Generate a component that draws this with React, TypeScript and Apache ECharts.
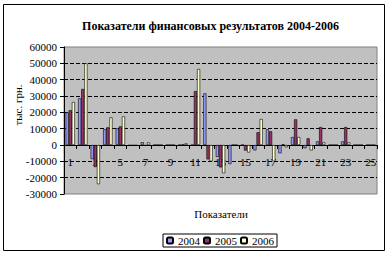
import React, { useEffect, useRef } from "react";
import * as echarts from "echarts";

const categories = ["1","2","3","4","5","6","7","8","9","10","11","12","13","14","15","16","17","18","19","20","21","22","23","24","25"];
const s2004 = [20000, 28600, -8600, 9600, 10200, -300, 1700, 0, 0, 0, 0, 31600, -7300, -11700, 0, -3300, 9600, -5100, 4900, -2000, 2200, 0, 2200, 0, 0];
const s2005 = [21300, 34300, -13500, 10800, 11400, -300, -400, 0, 0, 300, 33000, -8800, -13700, 0, -3400, 7800, 8400, 400, 15700, 4100, 11000, 0, 11000, 0, 0];
const s2006 = [26300, 50000, -24000, 16900, 17500, -300, 1600, 0, 0, 1000, 46500, -10000, -17300, 0, -4600, 15900, -10000, -1400, 4900, -3300, 1600, 0, 1600, 0, 0];
const seriesNames = ["2004", "2005", "2006"];
const seriesColors = ["#9999FF", "#993366", "#FFFFCC"];
const title = "Показатели финансовых результатов 2004-2006";
const yName = "тыс. грн.";
const xName = "Показатели";

const FONT = '"Liberation Serif", "Times New Roman", serif';

export default function App() {
  const ref = useRef<HTMLDivElement>(null);
  useEffect(() => {
    if (!ref.current) return;
    const chart = echarts.init(ref.current, undefined, { renderer: "svg" });
    const data = [s2004, s2005, s2006];
    chart.setOption({
      animation: false,
      backgroundColor: "#fff",
      textStyle: { fontFamily: FONT },
      grid: {
        left: 64, right: 13, top: 47, bottom: 61,
        show: true, backgroundColor: "#C0C0C0", borderColor: "#808080", borderWidth: 1,
      },
      legend: {
        left: 163, top: 234, orient: "horizontal",
        itemWidth: 6, itemHeight: 6, itemGap: 3,
        padding: [1, 3, 1, 3],
        borderColor: "#000", borderWidth: 1,
        textStyle: { fontSize: 11, fontFamily: FONT, color: "#000" },
        data: seriesNames,
      },
      xAxis: {
        type: "category",
        data: categories,
        boundaryGap: true,
        offset: -49,
        axisLine: { onZero: false, lineStyle: { color: "#000", width: 1 } },
        axisTick: { show: true, interval: 0, length: 4, lineStyle: { color: "#000" } },
        axisLabel: { interval: 1, fontSize: 11, color: "#000", fontFamily: FONT, margin: 11 },
        splitLine: { show: false },
      },
      yAxis: {
        type: "value",
        min: -30000, max: 60000, interval: 10000,
        axisLine: { show: true, lineStyle: { color: "#000", width: 1 } },
        axisTick: { show: true, length: 4, lineStyle: { color: "#000" } },
        axisLabel: { fontSize: 11, color: "#000", fontFamily: FONT, margin: 7, formatter: (v: number) => String(v) },
        splitLine: {
          show: true,
          lineStyle: {
            color: ["transparent", "#000", "#000", "#000", "#000", "#000", "#000", "#000", "#000", "transparent"],
            type: [4, 2], width: 1,
          },
        },
      },
      series: seriesNames.map((n, i) => ({
        name: n,
        type: "bar",
        data: data[i],
        barGap: "0%",
        barCategoryGap: "25%",
        itemStyle: { color: seriesColors[i], borderColor: "#000", borderWidth: 0.6 },
      })),
      graphic: [
        {
          type: "rect", silent: true,
          shape: { x: 3.5, y: 4.5, width: 381, height: 246 },
          style: { fill: "none", stroke: "#000", lineWidth: 1 },
        },
        {
          type: "text", x: 210.5, y: 26,
          style: { text: title, fontSize: 12, fontWeight: "bold", fontFamily: FONT, fill: "#000", align: "center", verticalAlign: "middle", textAlign: "center", textVerticalAlign: "middle" },
        },
        {
          type: "text", x: 18, y: 105, rotation: Math.PI / 2,
          style: { text: yName, fontSize: 11, fontFamily: FONT, fill: "#000", align: "center", verticalAlign: "middle", textAlign: "center", textVerticalAlign: "middle" },
        },
        {
          type: "text", x: 221, y: 214,
          style: { text: xName, fontSize: 11, fontFamily: FONT, fill: "#000", align: "center", verticalAlign: "middle", textAlign: "center", textVerticalAlign: "middle" },
        },
      ],
    });
    return () => chart.dispose();
  }, []);
  return <div ref={ref} style={{ position: "fixed", left: 0, top: 0, width: 390, height: 255 }} />;
}
